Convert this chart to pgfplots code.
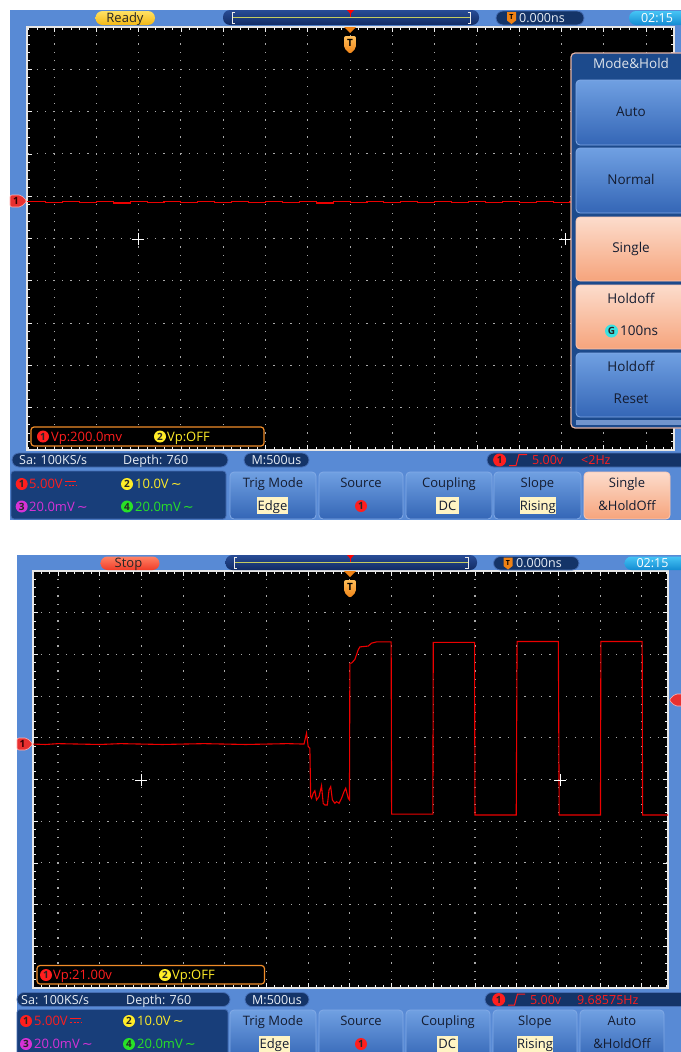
\documentclass[border=0pt]{standalone}
\usepackage{pgfplots}
\pgfplotsset{compat=1.18}
\usepackage{fontspec}
\setmainfont{Open Sans}
\newfontfamily\dejavu{DejaVu Sans}
\newcommand{\fs}[1]{\fontsize{#1}{#1}\selectfont}
\definecolor{frameblue}{RGB}{88,138,213}
\definecolor{navy}{RGB}{20,52,104}
\definecolor{navyedge}{RGB}{70,110,180}
\definecolor{chanbox}{RGB}{24,62,122}
\definecolor{btnT}{RGB}{112,160,226}
\definecolor{btnB}{RGB}{52,102,182}
\definecolor{btnE}{RGB}{130,170,230}
\definecolor{peachT}{RGB}{252,220,204}
\definecolor{peachB}{RGB}{246,164,124}
\definecolor{peachE}{RGB}{250,200,180}
\definecolor{menubg}{RGB}{28,74,140}
\definecolor{menuedge}{RGB}{230,180,165}
\definecolor{uitext}{RGB}{232,238,246}
\definecolor{btntext}{RGB}{20,28,48}
\definecolor{chred}{RGB}{255,30,30}
\definecolor{chyel}{RGB}{255,236,40}
\definecolor{chmag}{RGB}{214,50,214}
\definecolor{chgrn}{RGB}{40,225,40}
\definecolor{tracered}{RGB}{236,0,0}
\definecolor{labelbg}{RGB}{255,244,196}
\definecolor{tmark}{RGB}{240,130,20}
\definecolor{tmarkL}{RGB}{255,190,90}
\definecolor{vpedge}{RGB}{240,140,40}
\definecolor{readyT}{RGB}{255,226,100}
\definecolor{readyB}{RGB}{244,184,20}
\definecolor{stopT}{RGB}{255,130,100}
\definecolor{stopB}{RGB}{240,60,40}
\definecolor{tlT}{RGB}{40,76,150}
\definecolor{tlB}{RGB}{18,44,100}
\definecolor{tlline}{RGB}{196,204,96}
\definecolor{clockT}{RGB}{70,196,245}
\definecolor{clockB}{RGB}{20,140,210}
\definecolor{gridc}{RGB}{170,170,170}
\definecolor{cyanG}{RGB}{60,225,225}
\definecolor{markred}{RGB}{232,48,48}

\pgfplotsset{
 osc/.style={
  anchor=north west, scale only axis,
  ymin=-5, ymax=5,
  axis background/.style={fill=black},
  axis line style={draw=white!80!gray, line width=1.2pt},
  xtick={-7,...,7}, ytick={-5,...,5},
  minor xtick={-7.6,-7.4,...,7.61},
  minor ytick={-4.8,-4.6,...,4.81},
  xticklabels={}, yticklabels={},
  tick align=inside, major tick length=5pt, minor tick length=3pt,
  tick style={white!90!gray, line width=0.8pt},
  xmajorgrids, ymajorgrids,
 },
 trace/.style={draw=tracered, line width=1.1pt, mark=none},
}
\tikzset{
 txt/.style={inner sep=0pt, anchor=base, font=\fs{12.5}},
 txtw/.style={inner sep=0pt, anchor=base west, font=\fs{12.5}},
 pill/.style={fill=navy, draw=navyedge, line width=0.8pt, rounded corners=7pt},
 btn/.style={top color=btnT, bottom color=btnB, draw=btnE, line width=0.8pt, rounded corners=4pt},
 pbtn/.style={top color=peachT, bottom color=peachB, draw=peachE, line width=0.8pt, rounded corners=4pt},
 chc/.style={circle, inner sep=0pt, minimum size=12pt, font=\fs{10}\bfseries, text=black!85},
 bt/.style={txt, font=\fs{13}, text=btntext},
}

\begin{document}
\begin{tikzpicture}
\begin{scope}[x=1pt,y=-1pt]
\fill[white] (0,0) rectangle (680,1052);
% frames
\fill[frameblue] (10,10) rectangle (690,520);
\fill[frameblue] (17,555) rectangle (690,1060);
\end{scope}

% ---------- Panel A screen ----------
\begin{axis}[osc, at={(27pt,-27pt)}, width=647pt, height=423pt, xmin=-7.64, xmax=7.66,
  x grid style={gridc, line width=1.1pt, dash pattern=on 1.2pt off 7.26pt, dash phase=0.6pt},
  y grid style={gridc, line width=1.1pt, dash pattern=on 1.2pt off 7.26pt, dash phase=7.37pt}]
\addplot[trace, const plot] coordinates {
(-7.64,0.87) (-7.2,0.85) (-6.8,0.87) (-6.4,0.86) (-6.0,0.87) (-5.6,0.84) (-5.2,0.87)
(-4.8,0.86) (-4.4,0.87) (-4.0,0.85) (-3.6,0.87) (-3.2,0.86) (-2.8,0.87) (-2.4,0.85)
(-2.0,0.87) (-1.6,0.86) (-1.2,0.87) (-0.8,0.84) (-0.4,0.87) (0,0.86) (0.4,0.87)
(0.8,0.85) (1.2,0.87) (1.6,0.86) (2.0,0.87) (2.4,0.85) (2.8,0.87) (3.2,0.86)
(3.6,0.87) (4.0,0.85) (4.4,0.87) (4.8,0.86) (5.2,0.87) (5.6,0.85) (6.0,0.87)
(6.4,0.86) (6.8,0.87) (7.2,0.85) (7.66,0.87)};
\end{axis}

% ---------- Panel B screen ----------
\begin{axis}[osc, at={(33pt,-571pt)}, width=635pt, height=417pt, xmin=-7.60, xmax=7.63,
  x grid style={gridc, line width=1.1pt, dash pattern=on 1.2pt off 7.14pt, dash phase=0.6pt},
  y grid style={gridc, line width=1.1pt, dash pattern=on 1.2pt off 7.14pt, dash phase=0.6pt}]
\addplot[trace] coordinates {
(-7.60,0.85) (-7.3,0.84) (-7.0,0.86) (-6.5,0.85) (-6.0,0.84) (-5.5,0.86) (-5.0,0.85)
(-4.5,0.84) (-4.0,0.85) (-3.5,0.86) (-3.0,0.85) (-2.5,0.84) (-2.0,0.85) (-1.5,0.86)
(-1.1,0.85) (-1.04,1.11) (-1.0,0.79) (-0.96,0.75) (-0.94,-0.41) (-0.92,-0.45)
(-0.88,-0.33) (-0.84,-0.27) (-0.80,-0.49) (-0.74,-0.41) (-0.68,-0.15) (-0.64,-0.57)
(-0.60,-0.61) (-0.54,-0.61) (-0.50,-0.25) (-0.46,-0.17) (-0.42,-0.49) (-0.36,-0.57)
(-0.32,-0.53) (-0.26,-0.57) (-0.20,-0.45) (-0.14,-0.29) (-0.10,-0.21) (-0.04,-0.45)
(-0.01,-0.49) (0.0,2.79) (0.04,2.79) (0.12,2.88) (0.20,3.11) (0.24,3.18) (0.44,3.20)
(0.52,3.27) (0.64,3.30) (0.99,3.30) (1.0,-0.83) (1.99,-0.83) (2.0,3.29) (2.99,3.29)
(3.0,-0.85) (3.99,-0.85) (4.01,3.31) (5.0,3.31) (5.02,-0.85) (6.01,-0.85) (6.02,3.31)
(7.01,3.31) (7.02,-0.85) (7.63,-0.85)};
\end{axis}

\begin{scope}[x=1pt,y=-1pt]
% ================= PANEL A overlays =================
\shade[top color=readyT, bottom color=readyB, rounded corners=7pt] (95.5,11) rectangle (155,25);
\node[txt, font=\fs{13}, text=black!85] at (125,22.6) {Ready};
\shade[top color=tlT, bottom color=tlB, rounded corners=7pt] (223,10) rectangle (479,25);
\draw[tlline, line width=1.3pt] (233,17.5) -- (470,17.5);
\draw[white!85!gray, line width=1pt] (235,12) -- (232,12) -- (232,23) -- (235,23);
\draw[white!85!gray, line width=1pt] (467.5,12) -- (470.5,12) -- (470.5,23) -- (467.5,23);
\fill[red] (347,10) -- (354,10) -- (350.5,14) -- cycle;
\draw[red, line width=1pt] (350.5,10) -- (350.5,17);
\path[pill] (496,11) rectangle (584,25);
\fill[tmark] (507,12) -- (516,12) -- (516,20.5) -- (511.5,24) -- (507,20.5) -- cycle;
\node[inner sep=0pt, font=\fs{7}\bfseries] at (511.5,17.5) {T};
\node[txtw, text=uitext] at (519,22.5) {0.000ns};
\shade[top color=clockT, bottom color=clockB, rounded corners=7pt] (629,11) rectangle (695,25);
\node[txt, text=white] at (657,22.5) {02:15};
\fill[tmark] (344,27) -- (356,27) -- (350,33) -- cycle;
\shade[top color=tmarkL, bottom color=tmark, rounded corners=2pt] (344,36) -- (356,36) -- (356,48) -- (350,54) -- (344,48) -- cycle;
\node[inner sep=0pt, font=\fs{10}\bfseries] at (350,42.5) {T};
\fill[markred, draw=white!70!red, line width=0.6pt, rounded corners=2pt] (10,195) -- (21,195) -- (27,201) -- (21,207) -- (10,207) -- cycle;
\node[inner sep=0pt, font=\fs{10}\bfseries, text=black!80!red] at (16,201) {1};
\draw[white, line width=0.9pt] (132,239) -- (144,239) (138,233) -- (138,245);
\draw[white, line width=0.9pt] (559,239) -- (571,239) (565,233) -- (565,245);
% Mode&Hold menu
\fill[menubg, draw=menuedge, line width=1.2pt, rounded corners=4pt] (571,53) rectangle (695,428);
\node[txt, font=\fs{13.5}, text=uitext!90!gray] at (631,68.9) {Mode\&Hold};
\path[btn] (576,80) rectangle (695,145);
\path[btn] (576,148) rectangle (695,213);
\path[pbtn] (576,217) rectangle (695,281);
\path[pbtn] (576,285) rectangle (695,349);
\path[btn] (576,353) rectangle (695,417);
\fill[btnB!70!white] (576,420) rectangle (695,425);
\node[bt, font=\fs{13.5}] at (631,116.9) {Auto};
\node[bt, font=\fs{13.5}] at (631,184.9) {Normal};
\node[bt, font=\fs{13.5}] at (631,252.9) {Single};
\node[bt, font=\fs{13.5}] at (631,303.9) {Holdoff};
\node[chc, fill=cyanG, minimum size=13pt] at (611.5,331) {G};
\node[txtw, font=\fs{13.5}, text=btntext] at (620,335.9) {100ns};
\node[bt, font=\fs{13.5}] at (631,371.9) {Holdoff};
\node[bt, font=\fs{13.5}] at (631,403.9) {Reset};
% Vp box
\draw[vpedge, fill=black, line width=1.2pt, rounded corners=3pt] (31,427) rectangle (264,446);
\node[chc, fill=chred] at (43,436.5) {1};
\node[txtw, font=\fs{13}, text=chred] at (51,441.2) {Vp:200.0mv};
\node[chc, fill=chyel] at (160,436.5) {2};
\node[txtw, font=\fs{13}, text=chyel] at (167,441.2) {Vp:OFF};
% status row
\path[pill] (12,453) rectangle (228,467);
\node[txtw, text=uitext] at (19,464.5) {Sa: 100KS/s};
\node[txtw, text=uitext] at (123,464.5) {Depth: 760};
\path[pill] (244,453) rectangle (309,467);
\node[txt, text=uitext] at (276.5,464.5) {M:500us};
\path[pill] (487,453) rectangle (695,467);
\node[chc, fill=chred, minimum size=13pt] at (499.6,460) {1};
\draw[chred, line width=1pt] (509,465.5) -- (516,465.5) -- (519,454.5) -- (527,454.5);
\node[txtw, text=chred] at (532,464.5) {5.00v};
\node[txtw, text=chred] at (581,464.5) {<2Hz};
% channel box
\path[fill=chanbox, draw=navyedge, line width=0.8pt, rounded corners=3pt] (11,471) rectangle (226,519);
\node[chc, fill=chred] at (21.7,484) {1};
\node[txtw, font=\fs{13}, text=chred] at (29,488.7) {5.00V};
\draw[chred, line width=1pt] (65,481) -- (76,481);
\draw[chred, line width=1pt, dash pattern=on 2pt off 1.5pt] (65,485) -- (76,485);
\node[chc, fill=chyel] at (127,484) {2};
\node[txtw, font=\fs{13}, text=chyel] at (135,488.7) {10.0V\,{\dejavu ∼}};
\node[chc, fill=chmag] at (21.7,506.5) {3};
\node[txtw, font=\fs{13}, text=chmag] at (29,511.2) {20.0mV\,{\dejavu ∼}};
\node[chc, fill=chgrn] at (127,506.5) {4};
\node[txtw, font=\fs{13}, text=chgrn] at (135,511.2) {20.0mV\,{\dejavu ∼}};
% buttons
\path[btn] (230,472) rectangle (316,519);
\node[bt] at (273,487.7) {Trig Mode};
\fill[labelbg] (257,497) rectangle (288,514);
\node[bt] at (272.5,510.7) {Edge};
\path[btn] (319,472) rectangle (403,519);
\node[bt] at (361,487.7) {Source};
\node[chc, fill=chred] at (361,506) {1};
\path[btn] (406,472) rectangle (492,519);
\node[bt] at (449,487.7) {Coupling};
\fill[labelbg] (436,497) rectangle (459,514);
\node[bt] at (447.5,510.7) {DC};
\path[btn] (494,472) rectangle (581,519);
\node[bt] at (537.5,487.7) {Slope};
\fill[labelbg] (519.5,497) rectangle (556,514);
\node[bt] at (537.8,510.7) {Rising};
\path[pbtn] (584,472) rectangle (670,519);
\node[bt] at (627,487.7) {Single};
\node[bt] at (627,510.7) {\&HoldOff};

% ================= PANEL B overlays =================
\shade[top color=stopT, bottom color=stopB, rounded corners=7pt] (100.5,556.5) rectangle (159.5,570);
\node[txt, font=\fs{13}, text=black!85] at (128.5,567.8) {Stop};
\shade[top color=tlT, bottom color=tlB, rounded corners=7pt] (225.5,555) rectangle (477,570);
\draw[tlline, line width=1.3pt] (235,562.5) -- (468,562.5);
\draw[white!85!gray, line width=1pt] (237,557) -- (234,557) -- (234,568) -- (237,568);
\draw[white!85!gray, line width=1pt] (465,557) -- (468,557) -- (468,568) -- (465,568);
\fill[red] (347,555) -- (354,555) -- (350.5,559) -- cycle;
\draw[red, line width=1pt] (350.5,555) -- (350.5,562);
\path[pill] (493.5,556.5) rectangle (579,570);
\fill[tmark] (503.5,557.5) -- (512.5,557.5) -- (512.5,566) -- (508,569.5) -- (503.5,566) -- cycle;
\node[inner sep=0pt, font=\fs{7}\bfseries] at (508,563) {T};
\node[txtw, text=uitext] at (516,567.8) {0.000ns};
\shade[top color=clockT, bottom color=clockB, rounded corners=7pt] (624.5,556.5) rectangle (695,570);
\node[txt, text=white] at (652.5,567.8) {02:15};
\fill[tmark] (344,571) -- (356,571) -- (350,577) -- cycle;
\shade[top color=tmarkL, bottom color=tmark, rounded corners=2pt] (344,580) -- (356,580) -- (356,592) -- (350,598) -- (344,592) -- cycle;
\node[inner sep=0pt, font=\fs{10}\bfseries] at (350,586.5) {T};
\fill[markred, draw=white!70!red, line width=0.6pt, rounded corners=2pt] (17,738) -- (27,738) -- (33,744) -- (27,750) -- (17,750) -- cycle;
\node[inner sep=0pt, font=\fs{10}\bfseries, text=black!80!red] at (22.5,744) {1};
\fill[markred, draw=white!70!red, line width=0.6pt, rounded corners=2pt] (669,700) -- (675,694) -- (690,694) -- (690,706) -- (675,706) -- cycle;
\draw[white, line width=0.9pt] (135,780) -- (147,780) (141,774) -- (141,786);
\draw[white, line width=0.9pt] (554,780) -- (566,780) (560,774) -- (560,786);
% Vp box
\draw[vpedge, fill=black, line width=1.2pt, rounded corners=3pt] (37,965.5) rectangle (264.5,984);
\node[chc, fill=chred] at (46,975) {1};
\node[txtw, font=\fs{13}, text=chred] at (53,979.7) {Vp:21.00v};
\node[chc, fill=chyel] at (165,975) {2};
\node[txtw, font=\fs{13}, text=chyel] at (172,979.7) {Vp:OFF};
% status row
\path[pill] (17,992.5) rectangle (230,1006.5);
\node[txtw, text=uitext] at (21,1004) {Sa: 100KS/s};
\node[txtw, text=uitext] at (126,1004) {Depth: 760};
\path[pill] (245,992.5) rectangle (309,1006.5);
\node[txt, text=uitext] at (277,1004) {M:500us};
\path[pill] (485,992.5) rectangle (695,1006.5);
\node[chc, fill=chred, minimum size=13pt] at (498.7,999.5) {1};
\draw[chred, line width=1pt] (508,1005) -- (514.5,1005) -- (517.5,994) -- (525,994);
\node[txtw, text=chred] at (530,1004) {5.00v};
\node[txtw, text=chred] at (577,1004) {9.68575Hz};
% channel box
\path[fill=chanbox, draw=navyedge, line width=0.8pt, rounded corners=3pt] (17,1009.5) rectangle (228,1060);
\node[chc, fill=chred] at (26,1021) {1};
\node[txtw, font=\fs{13}, text=chred] at (34,1025.7) {5.00V};
\draw[chred, line width=1pt] (70,1018) -- (81,1018);
\draw[chred, line width=1pt, dash pattern=on 2pt off 1.5pt] (70,1022) -- (81,1022);
\node[chc, fill=chyel] at (129,1021) {2};
\node[txtw, font=\fs{13}, text=chyel] at (137,1025.7) {10.0V\,{\dejavu ∼}};
\node[chc, fill=chmag] at (26,1044) {3};
\node[txtw, font=\fs{13}, text=chmag] at (34,1048.7) {20.0mV\,{\dejavu ∼}};
\node[chc, fill=chgrn] at (129,1044) {4};
\node[txtw, font=\fs{13}, text=chgrn] at (137,1048.7) {20.0mV\,{\dejavu ∼}};
% buttons
\path[btn] (230,1010) rectangle (316,1060);
\node[bt] at (273,1025.7) {Trig Mode};
\fill[labelbg] (259,1036) rectangle (290,1052);
\node[bt] at (274.5,1048.7) {Edge};
\path[btn] (319,1010) rectangle (403,1060);
\node[bt] at (361,1025.7) {Source};
\node[chc, fill=chred] at (361,1044) {1};
\path[btn] (406,1010) rectangle (490,1060);
\node[bt] at (448,1025.7) {Coupling};
\fill[labelbg] (437,1036) rectangle (457.5,1052);
\node[bt] at (447.3,1048.7) {DC};
\path[btn] (493,1010) rectangle (577,1060);
\node[bt] at (535,1025.7) {Slope};
\fill[labelbg] (517,1036) rectangle (553,1052);
\node[bt] at (535,1048.7) {Rising};
\path[btn] (580,1010) rectangle (664,1060);
\node[bt] at (622,1025.7) {Auto};
\node[bt] at (622,1048.7) {\&HoldOff};
\end{scope}
\pgfresetboundingbox
\path[use as bounding box] (0pt,0pt) rectangle (680pt,-1052pt);
\end{tikzpicture}
\end{document}
